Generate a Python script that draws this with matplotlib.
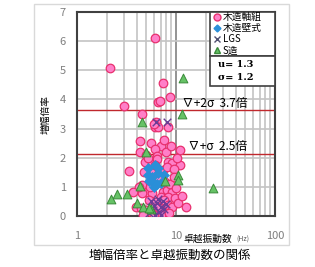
import numpy as np
import matplotlib.pyplot as plt
from matplotlib.lines import Line2D
from matplotlib.patches import Rectangle

plt.rcParams['font.family'] = ['Noto Sans CJK JP', 'DejaVu Sans']

# 木造軸組 (frecuencia Hz, amplificación)
jiku_x = [2.15, 6.1, 3.0, 4.5, 6.6, 7.4, 6.9, 8.7, 6.3, 6.1, 6.6, 8.3, 6.0,
          4.3, 5.6, 7.1, 6.1, 4.3, 11.0, 5.0, 6.5, 8.0, 3.35, 12.6,
          4.9, 5.8, 8.3, 9.1, 11.0, 6.5, 5.6, 7.4, 8.1, 9.5,
          4.5, 5.1, 5.8, 7.4, 8.1, 9.1, 7.1, 8.3, 9.8, 5.4, 6.3, 7.6,
          3.94, 4.4, 5.0, 7.6, 8.3, 9.1, 4.5, 5.5, 4.2, 3.7, 6.0, 6.8,
          7.8, 8.8, 10.0, 9.6, 10.5, 11.5, 6.6, 5.8, 7.0, 8.6, 6.2, 5.2,
          7.6, 4.8, 10.2, 9.0, 6.0, 4.6]
jiku_y = [5.08, 6.1, 3.76, 3.5, 3.92, 4.57, 3.95, 4.09, 3.23, 3.06, 3.06, 3.06, 3.15,
          2.58, 2.5, 2.4, 2.3, 2.2, 2.27, 2.1, 2.05, 2.2, 1.55, 0.31,
          1.86, 1.82, 1.86, 1.82, 1.75, 1.95, 1.51, 1.58, 1.68, 1.6,
          1.06, 0.82, 0.79, 0.82, 0.89, 0.82, 0.65, 0.65, 0.62, 0.55, 0.48, 0.55,
          0.31, 0.27, 0.21, 0.21, 0.38, 0.31, 0.8, 1.0, 1.0, 0.82, 1.2, 1.3,
          1.15, 1.1, 0.95, 1.35, 0.45, 0.7, 0.3, 0.1, 0.05, 0.1, 1.75, 2.0,
          2.6, 1.5, 2.0, 2.4, 0.05, 0.05]

# 木造壁式
kabe_x = [5.2, 6.6, 5.2, 5.7, 6.6, 6.4, 7.1, 5.3, 6.0, 5.6, 7.6, 6.2]
kabe_y = [1.65, 1.65, 1.4, 1.34, 1.48, 1.1, 1.13, 1.2, 1.0, 1.24, 1.4, 1.75]

# LGS
lgs_x = [6.3, 8.1, 5.6, 6.0, 6.5, 7.0, 7.4, 6.8, 5.9, 7.6, 6.2, 7.1, 5.4, 8.0, 6.6]
lgs_y = [3.23, 3.23, 0.5, 0.35, 0.45, 0.3, 0.5, 0.15, 0.2, 0.25, 0.05, 0.05, 0.1, 0.4, 0.6]

# S造
s_x = [11.8, 11.5, 4.5, 5.0, 10.5, 10.5, 7.7, 23.7, 4.3, 2.55, 3.2, 2.2,
       4.0, 4.6, 5.6, 5.3]
s_y = [4.72, 3.5, 3.23, 2.2, 1.4, 1.24, 1.2, 0.96, 1.03, 0.74, 0.76, 0.6,
       0.44, 0.31, 0.24, 0.27]

mu = 1.3
sigma = 1.2
lineas = [3.64, 2.13]
textos = ['∇+2σ  3.7倍', '∇+σ  2.5倍']

fig = plt.figure(figsize=(3.15, 2.67), dpi=100)
fig.patches.append(Rectangle((0.108, 0.082), 0.809, 0.903, transform=fig.transFigure,
                             fill=False, edgecolor='#d9d9d9', lw=1))
ax = fig.add_axes([0.244, 0.191, 0.629, 0.764])

ax.set_xscale('log')
ax.set_xlim(1, 100)
ax.set_ylim(0, 7)

ax.grid(True, which='major', axis='y', color='#c4c4c4', lw=1.2)
ax.grid(True, which='minor', axis='x', color='#c4c4c4', lw=1.2)
ax.grid(True, which='major', axis='x', color='#808080', lw=1.2)
ax.set_axisbelow(True)

for y in lineas:
    ax.axhline(y, color='#c0282d', lw=1.0, zorder=1.5)

ax.scatter(jiku_x, jiku_y, s=38, marker='o', facecolor='#ff7fc8', edgecolor='#e8306e', lw=0.9, zorder=3)
ax.scatter(kabe_x, kabe_y, s=26, marker='D', facecolor='#2a8fd8', edgecolor='#2a8fd8', lw=0.5, zorder=4)
ax.scatter(lgs_x, lgs_y, s=30, marker='x', color='#6a3c96', lw=1.0, zorder=4)
ax.scatter(s_x, s_y, s=40, marker='^', facecolor='#66c266', edgecolor='#3a8a3a', lw=0.7, zorder=4)

ax.text(11.5, 3.85, textos[0], fontsize=8.5, va='center', ha='left', color='black')
ax.text(13.2, 2.37, textos[1], fontsize=8.5, va='center', ha='left', color='black')

ax.set_xticks([1, 10, 100])
ax.set_xticklabels(['1', '10', '100'])
ax.set_yticks(range(8))
ax.tick_params(axis='both', which='both', length=0, labelsize=8, labelcolor='#7f7f7f')
ax.tick_params(axis='x', pad=11)
ax.tick_params(axis='y', pad=8)

for sp in ax.spines.values():
    sp.set_color('#404040')
    sp.set_linewidth(1.5)

ax.set_ylabel('増幅倍率', fontsize=7, labelpad=6)
fig.text(0.581, 0.106, '卓越振動数', fontsize=7, ha='left', va='center')
fig.text(0.75, 0.102, '(Hz)', fontsize=5, ha='left', va='center', color='#555555')
fig.text(0.54, 0.045, '増幅倍率と卓越振動数の関係', fontsize=9, ha='center', va='center')

# cuadros de leyenda y estadísticos
bx0 = 0.672
ax.add_patch(Rectangle((bx0, 0.784), 1 - bx0, 0.216, transform=ax.transAxes,
                       facecolor='white', edgecolor='#404040', lw=1.2, zorder=5))
ax.add_patch(Rectangle((bx0, 0.637), 1 - bx0, 0.147, transform=ax.transAxes,
                       facecolor='white', edgecolor='#404040', lw=1.2, zorder=5))

handles = [
    Line2D([], [], ls='', marker='o', ms=5, mfc='#ff7fc8', mec='#e8306e'),
    Line2D([], [], ls='', marker='D', ms=3.5, mfc='#2a8fd8', mec='#2a8fd8'),
    Line2D([], [], ls='', marker='x', ms=5, color='#505070'),
    Line2D([], [], ls='', marker='^', ms=5, mfc='#66c266', mec='#3a8a3a'),
]
leg = ax.legend(handles, ['木造軸組', '木造壁式', 'LGS', 'S造'], loc='upper left',
                bbox_to_anchor=(bx0 + 0.005, 1.01), fontsize=7, frameon=False,
                handlelength=0.8, handletextpad=0.2, labelspacing=0.12,
                borderpad=0.2, borderaxespad=0)
leg.set_zorder(6)

ax.text(bx0 + 0.04, 0.71, 'u= %.1f\nσ= %.1f' % (mu, sigma), transform=ax.transAxes,
        fontsize=7, family='DejaVu Serif', fontweight='bold', va='center', ha='left',
        linespacing=1.5, zorder=6)

fig.savefig('out.png', dpi=100)
